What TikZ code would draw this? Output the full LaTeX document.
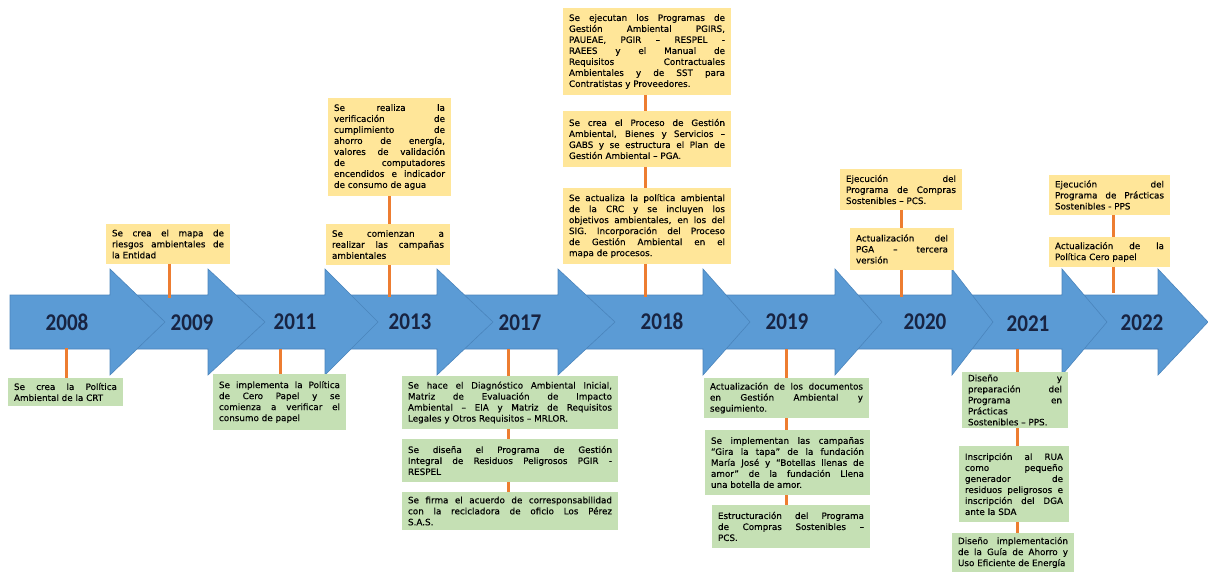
\documentclass[tikz,border=0pt]{standalone}
\usepackage{fontspec}
\setmainfont{DejaVu Sans}
\newfontfamily\boxfont{DejaVu Sans}[FakeBold=0.3]
\newfontfamily\yearfont{Carlito}[FakeStretch=0.88]
\definecolor{arrowblue}{HTML}{5B9BD5}
\definecolor{arrowline}{HTML}{4A84BC}
\definecolor{boxyellow}{HTML}{FFE699}
\definecolor{boxgreen}{HTML}{C5E0B4}
\definecolor{connorange}{HTML}{ED7D31}
\definecolor{yeartext}{RGB}{24,36,66}
\tolerance=10000
\hbadness=10000
\hyphenpenalty=10000
\exhyphenpenalty=10000
\tikzset{
  tlbox/.style={anchor=north west, inner xsep=6pt, inner ysep=0pt, outer sep=0pt,
    font=\boxfont\fontsize{8.8}{11}\selectfont, align=justify, text=black},
  ybox/.style={tlbox, fill=boxyellow},
  gbox/.style={tlbox, fill=boxgreen},
  yearlabel/.style={font=\yearfont\bfseries\fontsize{24}{24}\selectfont, text=yeartext, inner sep=0pt},
  connline/.style={draw=connorange, line width=3pt},
  tlarrow/.style={fill=arrowblue, draw=arrowline, line width=0.6pt, line join=miter},
}
\begin{document}
\begin{tikzpicture}[x=1pt,y=-1pt]
\useasboundingbox (0,0) rectangle (1208,572);
% ---------- timeline arrows (later ones first, so earlier ones lie on top) ----------
\foreach \sx/\hx/\tx in {1062/1158/1208, 952/1062/1107, 835/952/993, 703/835/882, 558/703/750,
                         437/558/615, 325/437/493, 208/325/378, 110/208/265, 10/110/165}{
  \draw[tlarrow] (\sx,295) -- (\hx,295) -- (\hx,269) -- (\tx,322) -- (\hx,375) -- (\hx,349) -- (\sx,349) -- cycle;
}
% ---------- years ----------
\node[yearlabel] (y2008) at (67,322) {2008};
\node[yearlabel] (y2009) at (192,323) {2009};
\node[yearlabel] (y2011) at (295,322) {2011};
\node[yearlabel] (y2013) at (410,322) {2013};
\node[yearlabel] (y2017) at (520,323) {2017};
\node[yearlabel] (y2018) at (662,321) {2018};
\node[yearlabel] (y2019) at (787,322) {2019};
\node[yearlabel] (y2020) at (925,322) {2020};
\node[yearlabel] (y2021) at (1028,324) {2021};
\node[yearlabel] (y2022) at (1142,323) {2022};
% ---------- upper boxes ----------
\node[ybox, text width=112pt, minimum height=40pt] (A) at (106,224)
  {Se crea el mapa de\linebreak riesgos ambientales de\linebreak la Entidad};
\node[ybox, text width=111pt, minimum height=98pt] (B) at (328,98)
  {Se realiza la\linebreak verificación de\linebreak cumplimiento de\linebreak ahorro de energía,\linebreak valores de validación\linebreak de computadores\linebreak encendidos e indicador\linebreak de consumo de agua};
\node[ybox, text width=112pt, minimum height=41pt] (C) at (326,224)
  {Se comienzan a\linebreak realizar las campañas\linebreak ambientales};
\node[ybox, text width=156pt, minimum height=87pt] (D) at (563,8)
  {Se ejecutan los Programas de\linebreak Gestión Ambiental PGIRS,\linebreak PAUEAE, PGIR – RESPEL -\linebreak RAEES y el Manual de\linebreak Requisitos Contractuales\linebreak Ambientales y de SST para\linebreak Contratistas y Proveedores.};
\node[ybox, text width=156pt, minimum height=56pt] (E) at (563,111)
  {Se crea el Proceso de Gestión\linebreak Ambiental, Bienes y Servicios –\linebreak GABS y se estructura el Plan de\linebreak Gestión Ambiental – PGA.};
\node[ybox, text width=156pt, minimum height=76pt] (F) at (563,188)
  {Se actualiza la política ambiental\linebreak de la CRC y se incluyen los\linebreak objetivos ambientales, en los del\linebreak SIG. Incorporación del Proceso\linebreak de Gestión Ambiental en el\linebreak mapa de procesos.};
\node[ybox, text width=110pt, minimum height=41pt] (G) at (840,169)
  {Ejecución del\linebreak Programa de Compras\linebreak Sostenibles – PCS.};
\node[ybox, text width=92pt, minimum height=42pt] (H) at (850,228)
  {Actualización del\linebreak PGA – tercera\linebreak versión};
\node[ybox, text width=109pt, minimum height=40pt] (I) at (1049,175)
  {Ejecución del\linebreak Programa de Prácticas\linebreak Sostenibles - PPS};
\node[ybox, text width=109pt, minimum height=30pt] (J) at (1049,237)
  {Actualización de la\linebreak Política Cero papel};
% ---------- lower boxes ----------
\node[gbox, text width=103pt, minimum height=28pt] (K) at (8,378)
  {Se crea la Política\linebreak Ambiental de la CRT};
\node[gbox, text width=121pt, minimum height=56pt] (L) at (213,374)
  {Se implementa la Política\linebreak de Cero Papel y se\linebreak comienza a verificar el\linebreak consumo de papel};
\node[gbox, text width=204pt, minimum height=53pt] (M) at (402,376)
  {Se hace el Diagnóstico Ambiental Inicial,\linebreak Matriz de Evaluación de Impacto\linebreak Ambiental – EIA y Matriz de Requisitos\linebreak Legales y Otros Requisitos – MRLOR.};
\node[gbox, text width=204pt, minimum height=43pt] (N) at (402,439)
  {Se diseña el Programa de Gestión\linebreak Integral de Residuos Peligrosos PGIR -\linebreak RESPEL};
\node[gbox, text width=204pt, minimum height=38pt] (O) at (402,492)
  {Se firma el acuerdo de corresponsabilidad\linebreak con la recicladora de oficio Los Pérez\linebreak S.A.S.};
\node[gbox, text width=153pt, minimum height=40pt] (P) at (704,378)
  {Actualización de los documentos\linebreak en Gestión Ambiental y\linebreak seguimiento.};
\node[gbox, text width=153pt, minimum height=65pt] (Q) at (705,430)
  {Se implementan las campañas\linebreak “Gira la tapa” de la fundación\linebreak María José y “Botellas llenas de\linebreak amor” de la fundación Llena\linebreak una botella de amor.};
\node[gbox, text width=146pt, minimum height=43pt] (R) at (712,505)
  {Estructuración del Programa\linebreak de Compras Sostenibles –\linebreak PCS.};
\node[gbox, text width=94pt, minimum height=56pt] (S) at (962,372)
  {Diseño y\linebreak preparación del\linebreak Programa en\linebreak Prácticas\linebreak Sostenibles – PPS.};
\node[gbox, text width=98pt, minimum height=76pt] (T) at (959,446)
  {Inscripción al RUA\linebreak como pequeño\linebreak generador de\linebreak residuos peligrosos e\linebreak inscripción del DGA\linebreak ante la SDA};
\node[gbox, text width=110pt, minimum height=39pt] (U) at (952,533)
  {Diseño implementación\linebreak de la Guía de Ahorro y\linebreak Uso Eficiente de Energía};
% ---------- connector anchor points on the arrows ----------
\coordinate (c09) at (169,298);
\coordinate (c13) at (389,297);
\coordinate (c18) at (645,297);
\coordinate (c20) at (901,297);
\coordinate (c22) at (1113,293);
\coordinate (c08) at (66,348);
\coordinate (c11) at (280,349);
\coordinate (c17) at (508,349);
\coordinate (c19) at (786,349);
\coordinate (c21) at (1017,349);
% ---------- connectors ----------
\draw[connline] (c09 |- A.south) -- (c09);
\draw[connline] (c13 |- B.south) -- (c13 |- C.north);
\draw[connline] (c13 |- C.south) -- (c13);
\draw[connline] (c18 |- D.south) -- (c18 |- E.north);
\draw[connline] (c18 |- E.south) -- (c18 |- F.north);
\draw[connline] (c18 |- F.south) -- (c18);
\draw[connline] (c20 |- G.south) -- (c20 |- H.north);
\draw[connline] (c20 |- H.south) -- (c20);
\draw[connline] (c22 |- I.south) -- (c22 |- J.north);
\draw[connline] (c22 |- J.south) -- (c22);
\draw[connline] (c08) -- (c08 |- K.north);
\draw[connline] (c11) -- (c11 |- L.north);
\draw[connline] (c17) -- (c17 |- M.north);
\draw[connline] (c17 |- M.south) -- (c17 |- N.north);
\draw[connline] (c17 |- N.south) -- (c17 |- O.north);
\draw[connline] (c19) -- (c19 |- P.north);
\draw[connline] (c19 |- P.south) -- (c19 |- Q.north);
\draw[connline] (c19 |- Q.south) -- (c19 |- R.north);
\draw[connline] (c21) -- (c21 |- S.north);
\draw[connline] (c21 |- S.south) -- (c21 |- T.north);
\draw[connline] (c21 |- T.south) -- (c21 |- U.north);
\end{tikzpicture}
\end{document}
